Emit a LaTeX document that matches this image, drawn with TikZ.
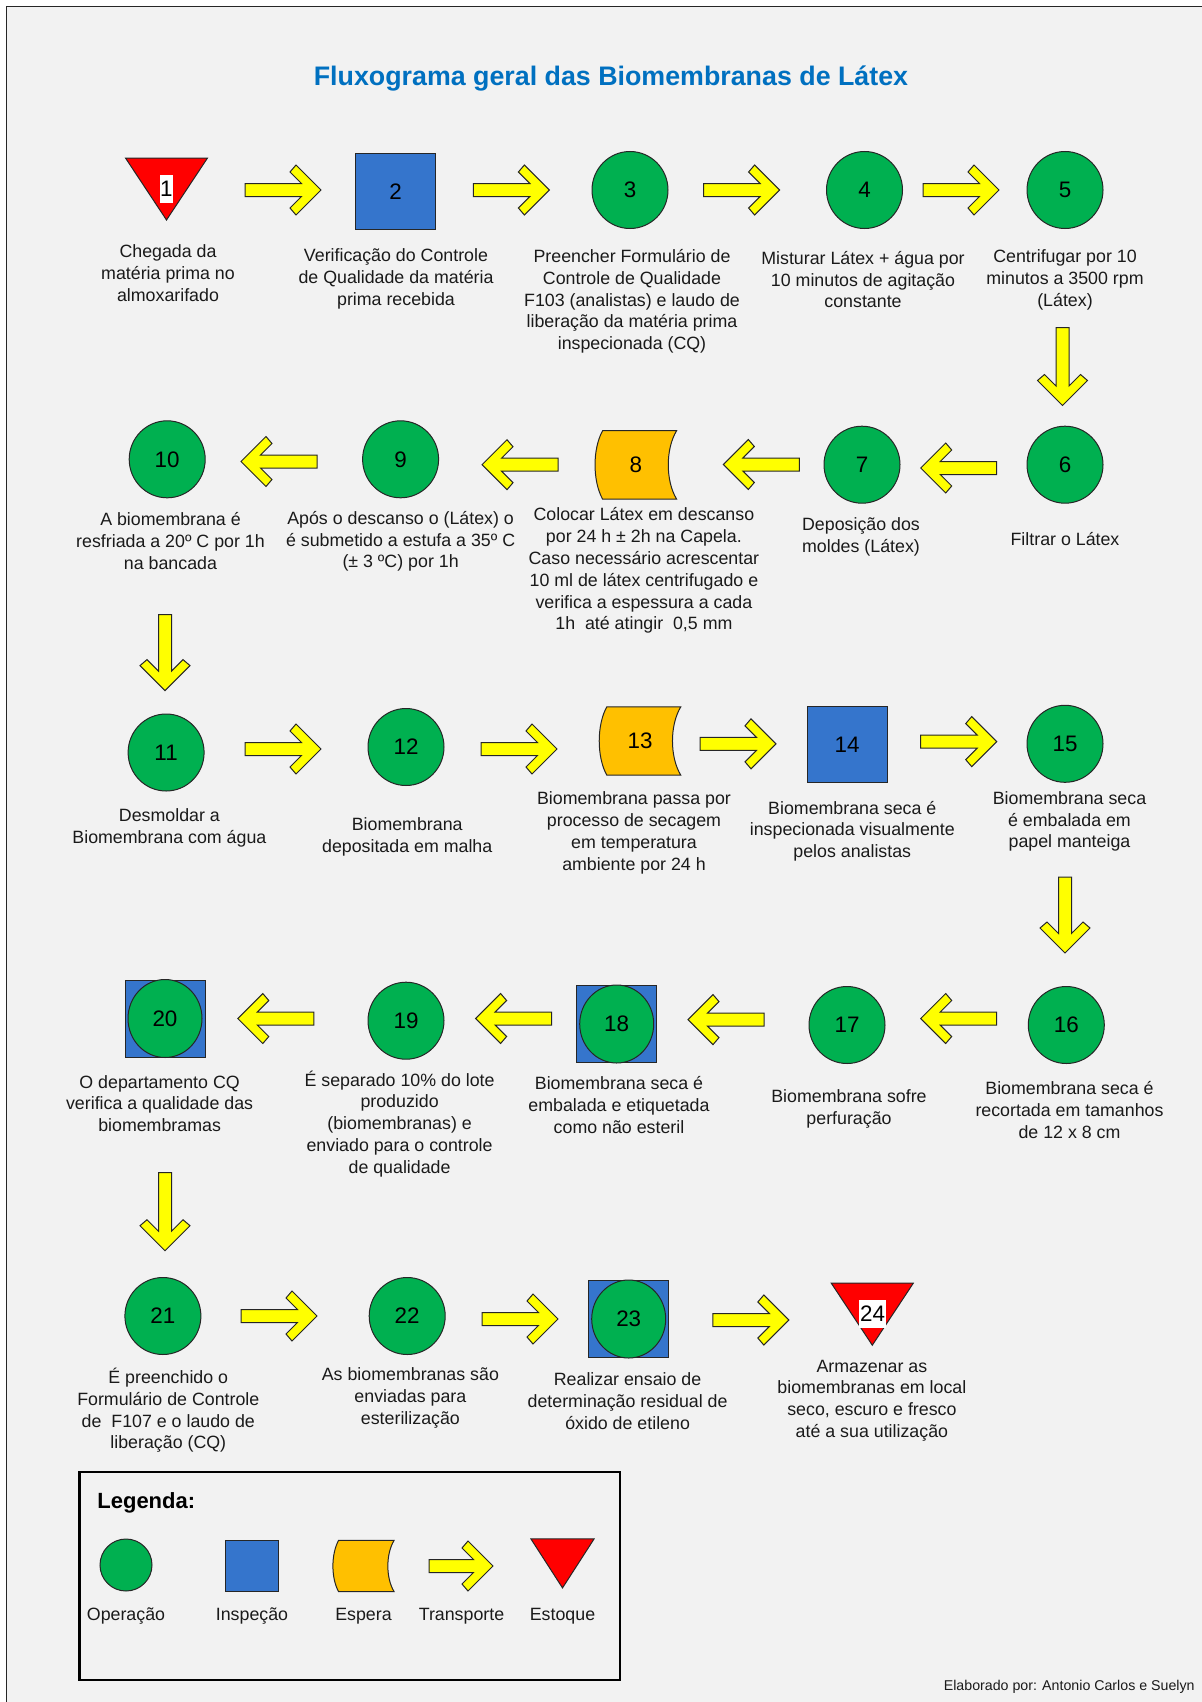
\documentclass[tikz,border=0pt]{standalone}
\usepackage{fontspec}
\setmainfont{Liberation Sans}
\usetikzlibrary{shapes.geometric}

\definecolor{pagebg}{HTML}{F2F2F2}
\definecolor{opgreen}{HTML}{00B050}
\definecolor{inblue}{RGB}{53,117,204}
\definecolor{waitorange}{HTML}{FFC000}
\definecolor{movey}{HTML}{FFFF00}
\definecolor{stockred}{HTML}{FF0000}
\definecolor{titleblue}{HTML}{0070C0}
\definecolor{ink}{HTML}{1A1A1A}
\definecolor{edge}{HTML}{262626}

\begin{document}
\begin{tikzpicture}[x=0.5pt,y=-0.5pt,
  num/.style={font=\fontsize{11.2}{13}\selectfont, text=black},
  opc/.style={ellipse, draw=edge, line width=0.5pt, fill=opgreen,
    minimum width=38pt, minimum height=38.5pt, inner sep=0pt, num},
  insp/.style={rectangle, draw=edge, line width=0.5pt, fill=inblue,
    minimum width=40pt, minimum height=38pt, inner sep=0pt, num},
  numbox/.style={fill=white, inner xsep=0.3pt, inner ysep=0pt,
    minimum height=14pt, num},
  lbl/.style={align=center, inner sep=0pt, text=ink, yshift=-0.8pt,
    font=\fontsize{8.9}{10.9}\selectfont},
  pics/stock/.style={code={
    \draw[draw=edge, line width=0.5pt, fill=stockred]
      (-41,-31) -- (41,-31) -- (0,31) -- cycle;}},
  pics/wait/.style={code={
    \draw[draw=edge, line width=0.5pt, fill=waitorange]
      (-33.2,-34.2) -- (40.8,-34.2)
      .. controls (29.7,-16) and (29.7,16) .. (40.8,34.2)
      -- (-33.2,34.2)
      .. controls (-43.3,16) and (-43.3,-16) .. (-33.2,-34.2) -- cycle;}},
  pics/tarrow/.style={code={
    \draw[draw=edge, line width=0.5pt, fill=movey, line join=miter]
      (-#1,-6.5) -- ({#1-19.5},-6.5) -- ({#1-31},-18) -- ({#1-25},-25)
      -- (#1,0) -- ({#1-25},25) -- ({#1-31},18) -- ({#1-19.5},6.5)
      -- (-#1,6.5) -- cycle;}}
]

% page and frame
\useasboundingbox (0,0) rectangle (1202,1702);
\fill[white] (0,0) rectangle (1202,1702);
\fill[pagebg] (6.5,6.5) rectangle (1202,1702);
\draw[line width=0.7pt, draw=edge] (6.5,1702) -- (6.5,6.5) -- (1202,6.5);

% title
\node[font=\bfseries\fontsize{13.4}{15}\selectfont, text=titleblue] (title)
  at (611,79) {Fluxograma geral das Biomembranas de Látex};

% ---------- row 1 ----------
\pic at (166.5,189) {stock};
\node[numbox] (n1) at (166.4,188.8) {1};
\pic at (283,190) {tarrow=38};
\node[insp] (n2) at (395.5,191.3) {2};
\pic at (511.4,190) {tarrow=38};
\node[opc] (n3) at (630,190) {3};
\pic at (741.6,190) {tarrow=38};
\node[opc] (n4) at (864.5,190) {4};
\pic at (961,190) {tarrow=38};
\node[opc] (n5) at (1065,190) {5};

\node[lbl] (l1) at (168,271.5) {Chegada da\\matéria prima no\\almoxarifado};
\node[lbl] (l2) at (396,277) {Verificação do Controle\\de Qualidade da matéria\\prima recebida};
\node[lbl] (l3) at (632,299.7) {Preencher Formulário de\\Controle de Qualidade\\F103 (analistas) e laudo de\\liberação da matéria prima\\inspecionada (CQ)};
\node[lbl] (l4) at (863,278) {Misturar Látex + água por\\10 minutos de agitação\\constante};
\node[lbl] (l5) at (1065,278) {Centrifugar por 10\\minutos a 3500 rpm\\(Látex)};

\pic[rotate=-90] at (1062.5,366.5) {tarrow=39};

% ---------- row 2 ----------
\node[opc] (n6) at (1065,464.7) {6};
\pic[rotate=180] at (958.7,468) {tarrow=38};
\node[opc] (n7) at (862,464.7) {7};
\pic[rotate=180] at (761.3,464.5) {tarrow=38};
\pic at (635.8,464.9) {wait};
\node[num] (n8) at (635.8,464.9) {8};
\pic[rotate=180] at (520,464.7) {tarrow=38};
\node[opc] (n9) at (400.6,459.3) {9};
\pic[rotate=180] at (279,461.5) {tarrow=38};
\node[opc] (n10) at (167.2,459.3) {10};

\node[lbl] (l10) at (170.5,539.7) {A biomembrana é\\resfriada a 20º C por 1h\\na bancada};
\node[lbl] (l9) at (400.6,539.7) {Após o descanso o (Látex) o\\é submetido a estufa a 35º C\\(± 3 ºC) por 1h};
\node[lbl] (l8) at (643.9,569) {Colocar Látex em descanso\\por 24 h ± 2h na Capela.\\Caso necessário acrescentar\\10 ml de látex centrifugado e\\verifica a espessura a cada\\1h\ \ até atingir\ \ 0,5 mm};
\node[lbl] (l7) at (861,535.3) {Deposição dos\\moldes (Látex)};
\node[lbl] (l6) at (1065,537.5) {Filtrar o Látex};

\pic[rotate=-90] at (165,652.6) {tarrow=38};

% ---------- row 3 ----------
\node[opc] (n11) at (166.1,752.5) {11};
\pic at (283,749) {tarrow=38};
\node[opc] (n12) at (406,747) {12};
\pic at (519,749) {tarrow=38};
\pic at (640,741) {wait};
\node[num] (n13) at (640,741) {13};
\pic at (738,743.8) {tarrow=38};
\node[insp] (n14) at (847,744.8) {14};
\pic at (958.7,741.6) {tarrow=38};
\node[opc] (n15) at (1065,743.8) {15};

\node[lbl] (l11) at (169.4,826.3) {Desmoldar a\\Biomembrana com água};
\node[lbl] (l12) at (407.2,835) {Biomembrana\\depositada em malha};
\node[lbl] (l13) at (634,831.2) {Biomembrana passa por\\processo de secagem\\em temperatura\\ambiente por 24 h};
\node[lbl] (l14) at (852.3,829.5) {Biomembrana seca é\\inspecionada visualmente\\pelos analistas};
\node[lbl] (l15) at (1069.5,819.8) {Biomembrana seca\\é embalada em\\papel manteiga};

\pic[rotate=-90] at (1065,915) {tarrow=38};

% ---------- row 4 ----------
\node[opc] (n16) at (1066.3,1025) {16};
\pic[rotate=180] at (958.7,1018.5) {tarrow=38};
\node[opc] (n17) at (847,1025) {17};
\pic[rotate=180] at (726,1019.6) {tarrow=38};
\node[insp, minimum width=40pt, minimum height=38.5pt] (s18) at (616.7,1024) {};
\node[opc, minimum width=37pt, minimum height=39pt] (n18) at (616.7,1024) {18};
\pic[rotate=180] at (513.6,1018.5) {tarrow=38};
\node[opc] (n19) at (406,1020.7) {19};
\pic[rotate=180] at (275.8,1018.5) {tarrow=38};
\node[insp, minimum width=40pt, minimum height=38.5pt] (s20) at (165,1018.5) {};
\node[opc, minimum width=37pt, minimum height=39pt] (n20) at (165,1018.5) {20};

\node[lbl] (l20) at (159.6,1102) {O departamento CQ\\verifica a qualidade das\\biomembramas};
\node[lbl] (l19) at (399.6,1122.2) {É separado 10\% do lote\\produzido\\(biomembranas) e\\enviado para o controle\\de qualidade};
\node[lbl] (l18) at (619,1103.2) {Biomembrana seca é\\embalada e etiquetada\\como não esteril};
\node[lbl] (l17) at (849,1107.5) {Biomembrana sofre\\perfuração};
\node[lbl] (l16) at (1069.5,1108.6) {Biomembrana seca é\\recortada em tamanhos\\de 12 x 8 cm};

\pic[rotate=-90] at (165,1211.7) {tarrow=39};

% ---------- row 5 ----------
\node[opc] (n21) at (162.9,1316) {21};
\pic at (279,1316) {tarrow=38};
\node[opc] (n22) at (407.2,1316) {22};
\pic at (520,1319) {tarrow=38};
\node[insp, minimum width=40pt, minimum height=38.5pt] (s23) at (628.7,1319) {};
\node[opc, minimum width=37pt, minimum height=39pt] (n23) at (628.7,1319) {23};
\pic at (750.8,1320) {tarrow=38};
\pic at (872.3,1314.2) {stock};
\node[numbox] (n24) at (872.5,1313.8) {24};

\node[lbl] (l21) at (168.3,1408.8) {É preenchido o\\Formulário de Controle\\de\ \ F107 e o laudo de\\liberação (CQ)};
\node[lbl] (l22) at (410.4,1396.3) {As biomembranas são\\enviadas para\\esterilização};
\node[lbl] (l23) at (627.6,1399.6) {Realizar ensaio de\\determinação residual de\\óxido de etileno};
\node[lbl] (l24) at (871.9,1399) {Armazenar as\\biomembranas em local\\seco, escuro e fresco\\até a sua utilização};

% ---------- legend ----------
\draw[line width=1.4pt, draw=black] (79.5,1472) rectangle (620,1680);
\node[anchor=base west, inner sep=0pt, text=black,
  font=\bfseries\fontsize{11}{13}\selectfont] (legtitle) at (97,1508) {Legenda:};
\node[opc, minimum width=26pt, minimum height=26pt] (kop) at (126,1565) {};
\node[insp, minimum width=26.5pt, minimum height=25.5pt] (kin) at (252.4,1566.3) {};
\pic[scale=0.75] at (363.5,1566) {wait};
\pic at (461,1566) {tarrow=32};
\pic[xscale=0.77, yscale=0.79] at (562.5,1563.4) {stock};
\node[lbl] (kopl) at (126,1614.6) {Operação};
\node[lbl] (kinl) at (252,1614.6) {Inspeção};
\node[lbl] (kwal) at (363.5,1614.6) {Espera};
\node[lbl] (ktrl) at (461.5,1614.6) {Transporte};
\node[lbl] (kstl) at (562.5,1614.6) {Estoque};

% credit line
\node[anchor=base east, inner sep=0pt, text=ink,
  font=\fontsize{7.1}{8.5}\selectfont] (credit) at (1195,1690.7)
  {Elaborado por: Antonio Carlos e Suelyn};
\end{tikzpicture}
\end{document}
